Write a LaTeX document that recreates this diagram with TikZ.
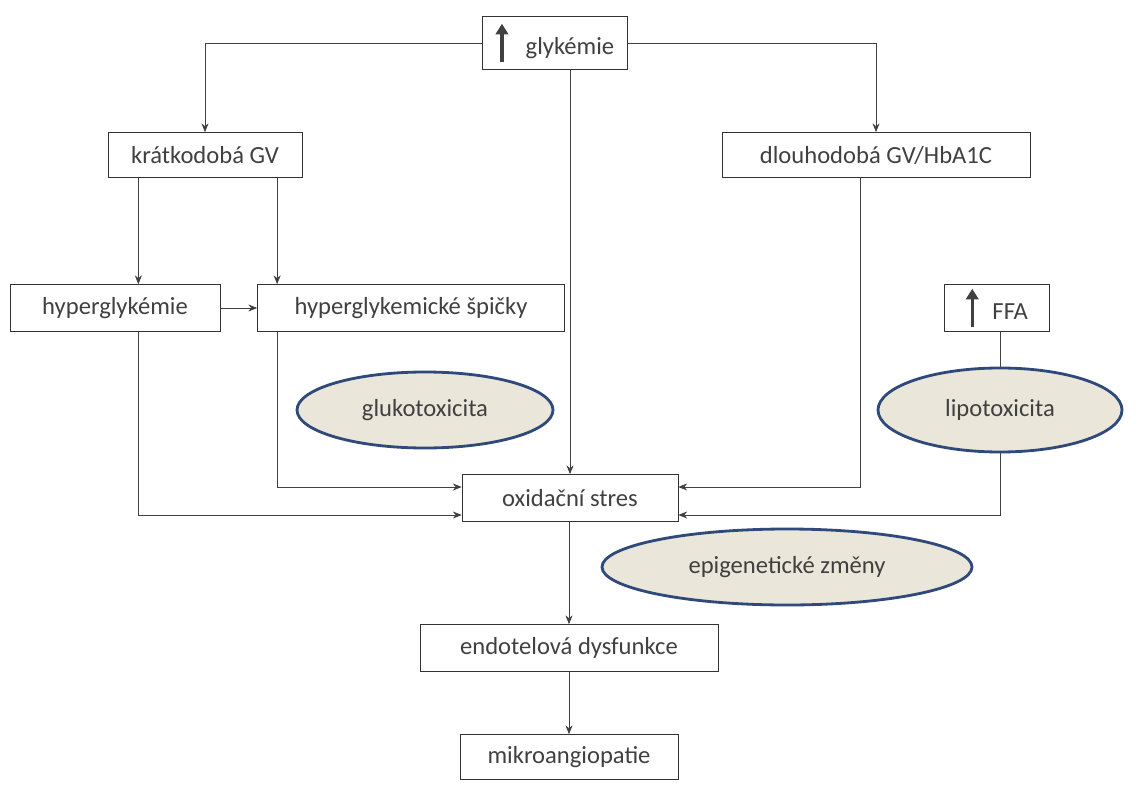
\documentclass[tikz,border=0pt]{standalone}
\usepackage{fontspec}
\setmainfont{Carlito}
\usetikzlibrary{arrows.meta,shapes.geometric}
\definecolor{txtgray}{HTML}{404040}
\definecolor{ovalfill}{HTML}{EAE6DA}
\definecolor{ovalline}{HTML}{2F4A7A}
\newcommand{\uparr}{\tikz[x=1cm,y=1cm,baseline=0pt]\draw[line width=2pt,-{Triangle[length=6pt,width=7pt]}] (0,-0.15)--(0,0.62);}
\tikzset{
  box/.style={draw=black!80, fill=white, font=\fontsize{14}{16}\selectfont, text=txtgray, inner sep=0pt},
  oval/.style={ellipse, draw=ovalline, line width=1.6pt, fill=ovalfill, font=\fontsize{14}{16}\selectfont, text=txtgray},
  arr/.style={-{Stealth[length=5pt,width=4pt]}, draw=black!75},
  link/.style={draw=black!75}
}
\begin{document}
\begin{tikzpicture}[x=0.02cm,y=-0.02cm]
  \useasboundingbox (0,0) rectangle (1141,800);

  % boxes
  \node[box, minimum width=145*0.02cm, minimum height=53*0.02cm] (glyk) at (555,43)
    {\uparr\hspace{10pt}glykémie};
  \node[box, minimum width=194*0.02cm, minimum height=45*0.02cm] (kratko) at (205,155) {krátkodobá GV};
  \node[box, minimum width=308*0.02cm, minimum height=45*0.02cm] (dlouho) at (876,155) {dlouhodobá GV/HbA1C};
  \node[box, minimum width=210*0.02cm, minimum height=47*0.02cm] (hyper) at (115,308) {hyperglykémie};
  \node[box, minimum width=307*0.02cm, minimum height=47*0.02cm] (spicky) at (411,308) {hyperglykemické špičky};
  \node[box, minimum width=105*0.02cm, minimum height=47*0.02cm] (ffa) at (997,308)
    {\uparr\hspace{8pt}FFA};
  \node[box, minimum width=216*0.02cm, minimum height=47*0.02cm] (oxid) at (570,498) {oxidační stres};
  \node[box, minimum width=298*0.02cm, minimum height=47*0.02cm] (endo) at (569,648) {endotelová dysfunkce};
  \node[box, minimum width=218*0.02cm, minimum height=45*0.02cm] (mikro) at (569,757) {mikroangiopatie};

  % ovals
  \node[oval, minimum width=256*0.02cm, minimum height=76*0.02cm] (gluko) at (425,410) {glukotoxicita};
  \node[oval, minimum width=244*0.02cm, minimum height=84*0.02cm] (lipo) at (1000,410) {lipotoxicita};
  \node[oval, minimum width=370*0.02cm, minimum height=76*0.02cm] (epi) at (787,567) {epigenetické změny};

  % connectors
  \draw[arr] (glyk.west) -| (kratko.north);
  \draw[arr] (glyk.east) -| (dlouho.north);
  \draw[arr] (glyk.south -| oxid.north) -- (oxid.north);
  \draw[arr] (kratko.south -| hyper.north east) ++(-82,0) coordinate (k1) -- (k1 |- hyper.north);
  \draw[arr] (kratko.south -| spicky.north west) ++(20,0) coordinate (k2) -- (k2 |- spicky.north);
  \draw[arr] (hyper.east) -- (spicky.west);
  \coordinate (h1) at (hyper.south -| k1);
  \draw[arr] (h1) |- ([yshift=-0.34cm]oxid.west);
  \coordinate (s1) at (spicky.south -| k2);
  \draw[arr] (s1) |- ([yshift=0.22cm]oxid.west);
  \coordinate (d1) at ([xshift=-0.32cm]dlouho.south);
  \draw[arr] (d1) |- ([yshift=0.22cm]oxid.east);
  \draw[link] (ffa.south -| lipo.north) -- (lipo.north);
  \draw[arr] (lipo.south) |- ([yshift=-0.34cm]oxid.east);
  \draw[arr] (oxid.south -| endo.north) -- (endo.north);
  \draw[arr] (endo.south) -- (mikro.north);
\end{tikzpicture}
\end{document}
